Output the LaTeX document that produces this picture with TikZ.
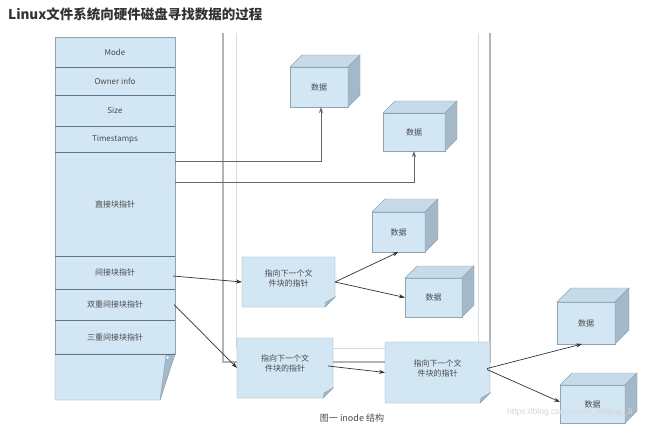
\documentclass[tikz,border=0pt]{standalone}
\usepackage{fontspec}
\setmainfont{Noto Sans CJK SC}
\newfontfamily\wmfont{Liberation Sans}
\usetikzlibrary{arrows.meta,calc}
\definecolor{boxfill}{HTML}{D2E6F4}
\definecolor{boxline}{HTML}{8FA3B3}
\definecolor{sepline}{HTML}{5F7384}
\definecolor{cubeside}{HTML}{A3B8C8}
\definecolor{cubetopc}{HTML}{C6DBEA}
\definecolor{txt}{HTML}{4A4A4A}
\definecolor{titlec}{HTML}{333333}
\definecolor{frameout}{HTML}{B4B4B4}
\definecolor{framein}{HTML}{DCDCDC}
\definecolor{wmc}{HTML}{D6D6D6}
\tikzset{
  rowbox/.style={fill=boxfill, inner sep=0pt, outer sep=0pt, minimum width=120pt, text=txt, font=\fontsize{8}{10}\selectfont},
  cubefront/.style={fill=boxfill, draw=boxline, inner sep=0pt, outer sep=0pt, text=txt, font=\fontsize{8}{10}\selectfont},
  notebox/.style={inner sep=0pt, outer sep=0pt},
  notetext/.style={text=txt, font=\fontsize{8}{10}\selectfont, align=center, inner sep=0pt},
  arr/.style={draw=black!80, line width=0.7pt, -{Stealth[length=6pt,width=4pt]}},
  directline/.style={draw=black!60, line width=0.9pt, -{Stealth[length=6pt,width=4pt]}},
}
\newcommand{\datacube}[6]{% name, cx, cy, w, h, depth
  \node[cubefront, minimum width=#4, minimum height=#5] (#1) at (#2,#3) {数据};
  \filldraw[draw=boxline, fill=cubetopc] (#1.north west) -- ++(#6,-#6) -- ++(#4,0) -- (#1.north east) -- cycle;
  \filldraw[draw=boxline, fill=cubeside] (#1.north east) -- ++(#6,-#6) -- ++(0,#5) -- (#1.south east) -- cycle;
}
\newcommand{\notebox}[6]{% name, cx, cy, w, h, text y-offset
  \path node[notebox, minimum width=#4, minimum height=#5] (#1) at (#2,#3) {};
  \filldraw[draw=boxline, fill=boxfill] (#1.north west) -- (#1.north east) -- ([yshift=10pt]#1.south east) -- ([xshift=-10pt]#1.south east) -- (#1.south west) -- cycle;
  \filldraw[draw=boxline, fill=cubeside] ([yshift=10pt]#1.south east) -- ([xshift=-10pt]#1.south east) -- ([xshift=-9pt,yshift=5pt]#1.south east) -- cycle;
  \node[notetext] (#1-t) at ([yshift=#6]#1.center) {指向下一个文\\件块的指针};
}
\begin{document}
\begin{tikzpicture}[x=1pt,y=-1pt]
\useasboundingbox (0,0) rectangle (650,425);
\fill[white] (0,0) rectangle (650,425);

% title
\node[anchor=west, inner sep=0pt, text=titlec, font=\fontsize{13.5}{16}\selectfont\bfseries] (title) at (8,14) {Linux文件系统向硬件磁盘寻找数据的过程};

% window frame
\draw[frameout, line width=1.5pt] (223,33) -- (223,362) -- (490,362) -- (490,33);
\draw[framein, line width=1pt] (236,33) -- (236,348) -- (478,348) -- (478,33);

% inode table
\node[rowbox, minimum height=30pt] (mode) at (115,52) {Mode};
\node[rowbox, minimum height=28pt] (owner) at (115,81) {Owner info};
\node[rowbox, minimum height=31pt] (size) at (115,110.5) {Size};
\node[rowbox, minimum height=26pt] (time) at (115,139) {Timestamps};
\node[rowbox, minimum height=104pt] (direct) at (115,204) {直接块指针};
\node[rowbox, minimum height=33pt] (indirect) at (115,272.5) {间接块指针};
\node[rowbox, minimum height=31pt] (double) at (115,304.5) {双重间接块指针};
\node[rowbox, minimum height=34pt] (triple) at (115,337) {三重间接块指针};
\filldraw[draw=boxline, fill=boxfill] (triple.south west) -- (triple.south east) -- (160,400) -- (55,400) -- cycle;
\filldraw[draw=boxline, fill=cubeside] (166,355) -- (triple.south east) -- (160,400) -- cycle;
\fill[white] (167.5,357.5) circle (1.3);
\draw[boxline] (mode.north west) rectangle (triple.south east);
\foreach \r in {mode,owner,size,time,direct,indirect,double,triple}
  \draw[sepline, line width=0.8pt] (\r.south west) -- (\r.south east);

% data cubes
\datacube{d1}{319}{87}{58}{40}{12}
\datacube{d2}{414}{132}{62}{38}{12}
\datacube{d3}{398.5}{232}{53}{40}{13}
\datacube{d4}{433.5}{297.5}{57}{39}{12}
\datacube{d5}{586}{323}{58}{42}{14}
\datacube{d6}{592.5}{404}{65}{38}{12}

% note boxes
\notebox{n1}{288.5}{282}{93}{50}{4pt}
\notebox{n2}{285}{368}{96}{60}{5pt}
\notebox{n3}{437.5}{372.5}{105}{61}{4pt}

% direct pointers
\draw[directline] ([yshift=-9pt]direct.north east) -| ([xshift=2pt]d1.south);
\draw[directline] ([yshift=-30pt]direct.north east) -| (d2.south);

% indirect connectors
\draw[arr] ([xshift=-2pt,yshift=-3.5pt]indirect.east) -- (n1.west);
\draw[arr] ([xshift=-1pt]double.east) -- (n2.west);
\draw[arr] (n1.east) -- (d3.south);
\draw[arr] (n1.east) -- (d4.west);
\draw[arr] ([xshift=-5pt,yshift=2pt]n2.east) -- (n3.west);
\draw[arr] ([xshift=-3pt,yshift=4pt]n3.east) -- ([xshift=-4pt]d5.south);
\draw[arr] ([xshift=-3pt,yshift=3pt]n3.east) -- ([yshift=2pt]d6.west);

% caption and watermark
\node[inner sep=0pt, text=txt, font=\fontsize{9}{10}\selectfont] (cap) at (352,418) {图一 inode 结构};
\node[anchor=west, inner sep=0pt, text=wmc, font=\wmfont\fontsize{8.5}{9}\selectfont] (wm) at (507,412) {https://blog.csdn.net/H\_Beijing\_Ji};
\end{tikzpicture}
\end{document}
